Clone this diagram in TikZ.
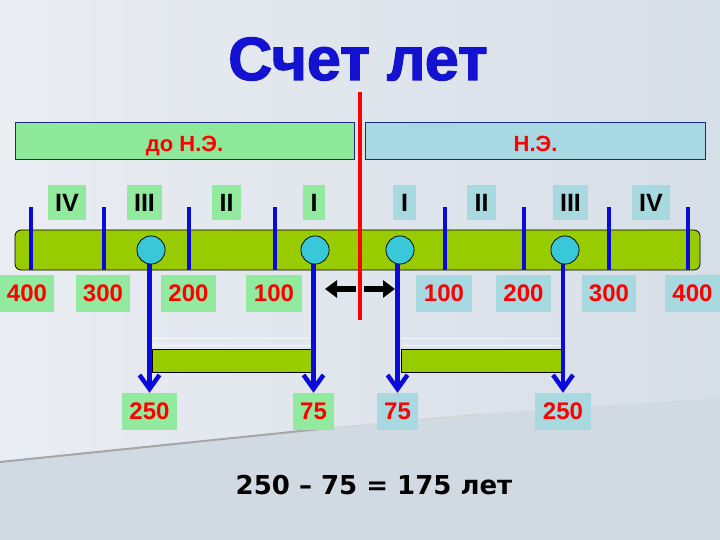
\documentclass[tikz,border=0pt]{standalone}
\usepackage{fontspec}
\setmainfont{Liberation Sans}
\newfontfamily\eqfont{DejaVu Sans}
\newfontfamily\ttlfont{Liberation Sans}[BoldFeatures={FakeBold=2}]
\usetikzlibrary{arrows.meta}
\definecolor{bgL}{HTML}{EAEDF2}
\definecolor{bgR}{HTML}{D6DEE7}
\definecolor{bgLow}{HTML}{D1DAE3}
\definecolor{lgreen}{HTML}{92EA9E}
\definecolor{lblue}{HTML}{A8D8E0}
\definecolor{hgreen}{HTML}{8EE89A}
\definecolor{hblue}{HTML}{A8D9E2}
\definecolor{barg}{HTML}{99CC00}
\definecolor{cyanc}{HTML}{38C8D8}
\definecolor{tblue}{HTML}{1212D0}
\definecolor{lineblue}{HTML}{0A0ADC}
\definecolor{frame}{HTML}{1A2A8A}
\tikzset{
  hdr/.style={draw=frame, line width=0.8pt, minimum height=37pt, inner sep=0pt,
    text height=23pt, text depth=0pt,
    text=red, font=\bfseries\fontsize{22}{22}\selectfont},
  rom/.style={minimum height=35pt, inner sep=0pt, text=black,
    font=\bfseries\fontsize{25}{25}\selectfont},
  yr/.style={minimum height=37pt, inner sep=0pt, text=red,
    font=\bfseries\fontsize{24}{24}\selectfont},
  tick/.style={draw=lineblue, line width=3.5pt},
  dot/.style={circle, draw=black, line width=0.6pt, fill=cyanc, minimum size=28pt, inner sep=0pt},
  down/.style={draw=lineblue, line width=4.5pt, -{Straight Barb[length=14pt,width=20pt]}},
  bk/.style={draw=black, line width=6pt, -{Triangle[length=12pt,width=17pt]}},
  sub/.style={draw=black, line width=0.8pt, fill=barg},
  ttl/.style={anchor=base, font=\ttlfont\bfseries\fontsize{61}{61}\selectfont}
}
\begin{document}
\begin{tikzpicture}[x=1pt,y=-1pt]
\useasboundingbox (0,0) rectangle (720,540);
% background
\shade[left color=bgL, right color=bgR] (0,0) rectangle (720,540);
\fill[bgLow] (0,462) -- (330,428) -- (480,414) -- (720,398) -- (720,540) -- (0,540) -- cycle;
\draw[gray!70, line width=2pt] (0,462) -- (330,428);
\draw[gray!35, line width=1pt] (330,428) -- (480,414);
% title
\node[ttl, text=tblue] (title) at (358,80) {Счет лет};
% header boxes
\node[hdr, fill=hgreen, minimum width=339pt] (bc) at (184.5,140.5) {до Н.Э.};
\node[hdr, fill=hblue, minimum width=340pt] (ad) at (535.5,140.5) {Н.Э.};
% roman numerals
\node[rom, fill=lgreen, minimum width=38pt] (r4l) at (67,202.5) {IV};
\node[rom, fill=lgreen, minimum width=35pt] (r3l) at (144.5,202.5) {III};
\node[rom, fill=lgreen, minimum width=29pt] (r2l) at (226.5,202.5) {II};
\node[rom, fill=lgreen, minimum width=22pt] (r1l) at (314,202.5) {I};
\node[rom, fill=lblue, minimum width=23pt] (r1r) at (404.5,202.5) {I};
\node[rom, fill=lblue, minimum width=29pt] (r2r) at (481.5,202.5) {II};
\node[rom, fill=lblue, minimum width=35pt] (r3r) at (570.5,202.5) {III};
\node[rom, fill=lblue, minimum width=38pt] (r4r) at (651,202.5) {IV};
% main bar
\draw[fill=barg, draw=black, line width=0.8pt, rounded corners=6pt] (15,230) rectangle (700,270);
% ticks
\foreach \x/\n in {31/a,104/b,189/c,275/d,445/e,524/f,609/g,688/h}{
  \coordinate (t\n top) at (\x,207);
  \coordinate (t\n bot) at (\x,270);
  \draw[tick] (t\n top) -- (t\n bot);
}
% year labels
\node[yr, fill=lgreen, minimum width=54pt] (y4l) at (27,293.5) {400};
\node[yr, fill=lgreen, minimum width=54pt] (y3l) at (103,293.5) {300};
\node[yr, fill=lgreen, minimum width=55pt] (y2l) at (188.5,293.5) {200};
\node[yr, fill=lgreen, minimum width=56pt] (y1l) at (274,293.5) {100};
\node[yr, fill=lblue, minimum width=56pt] (y1r) at (444,293.5) {100};
\node[yr, fill=lblue, minimum width=55pt] (y2r) at (523.5,293.5) {200};
\node[yr, fill=lblue, minimum width=54pt] (y3r) at (609,293.5) {300};
\node[yr, fill=lblue, minimum width=55pt] (y4r) at (692.5,293.5) {400};
% black arrows
\coordinate (la1) at (356,289);
\coordinate (la2) at (325,289);
\coordinate (ra1) at (364,289);
\coordinate (ra2) at (395,289);
\draw[bk] (la1) -- (la2);
\draw[bk] (ra1) -- (ra2);
% lower bars
\draw[white!60!lineblue!10, line width=0.6pt] (152,338) -- (313,338) (152,345) -- (313,345);
\draw[white!60!lineblue!10, line width=0.6pt] (402,338) -- (563,338) (402,345) -- (563,345);
\path[sub] (152,349) rectangle (313,372);
\path[sub] (401,349) rectangle (564,372);
% bottom labels
\node[yr, fill=lgreen, minimum width=55pt] (b1) at (149.5,411.5) {250};
\node[yr, fill=lgreen, minimum width=41pt] (b2) at (313.5,411.5) {75};
\node[yr, fill=lblue, minimum width=41pt] (b3) at (397.5,411.5) {75};
\node[yr, fill=lblue, minimum width=56pt] (b4) at (563,411.5) {250};
% circles and down arrows
\node[dot] (c1) at (151,250) {};
\node[dot] (c2) at (315,250) {};
\node[dot] (c3) at (400,250) {};
\node[dot] (c4) at (565,250) {};
\draw[down] (c1.south -| b1.north) -- (b1.north);
\draw[down] (c2.south -| b2.north) -- (b2.north);
\draw[down] (c3.south -| b3.north) -- (b3.north);
\draw[down] (c4.south -| b4.north) -- (b4.north);
\node[dot] (c1f) at (c1) {};
\node[dot] (c2f) at (c2) {};
\node[dot] (c3f) at (c3) {};
\node[dot] (c4f) at (c4) {};
% red divider
\coordinate (redtop) at (360,92);
\coordinate (redbot) at (360,320);
\draw[red, line width=4pt] (redtop) -- (redbot);
% equation
\node[anchor=base, text=black, font=\eqfont\bfseries\fontsize{26}{26}\selectfont] (eq) at (374,494) {250 – 75 = 175 лет};
\end{tikzpicture}
\end{document}
